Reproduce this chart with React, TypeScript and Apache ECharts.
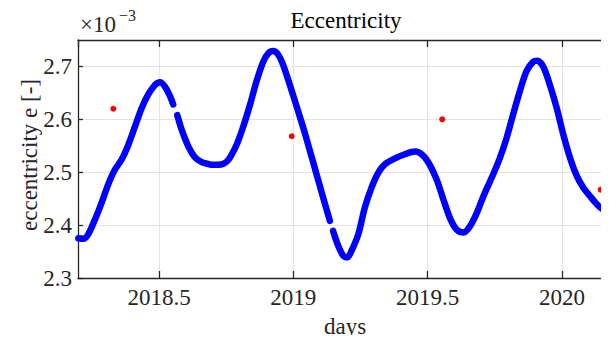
import React, { useEffect, useRef } from "react";
import * as echarts from "echarts";

// Time axis (decimal years) and eccentricity (in units of 1e-3)
const days: (number | null)[] = [
  2018.2, 2018.218, 2018.237, 2018.262, 2018.287, 2018.311, 2018.336, 2018.361,
  2018.386, 2018.411, 2018.436, 2018.46, 2018.485, 2018.504, 2018.522, 2018.541,
  2018.553, null, 2018.568, 2018.584, 2018.609, 2018.634, 2018.659, 2018.68,
  2018.7, 2018.72, 2018.74, 2018.754, 2018.768, 2018.789, 2018.814, 2018.839,
  2018.863, 2018.888, 2018.907,
  2018.925, 2018.944, 2018.962, 2018.987, 2019.012, 2019.037, 2019.062, 2019.087,
  2019.111, 2019.136, null, 2019.148, 2019.167, 2019.186, 2019.201, 2019.217,
  2019.242, 2019.266, 2019.291, 2019.316, 2019.341, 2019.378, 2019.415, 2019.453,
  2019.484, 2019.51, 2019.535, 2019.56, 2019.585, 2019.609, 2019.634, 2019.659,
  2019.684, 2019.7, 2019.719, 2019.744, 2019.769, 2019.794, 2019.818, 2019.843,
  2019.868, 2019.893, 2019.908, 2019.93, 2019.955, 2019.98, 2020.005, 2020.03,
  2020.055, 2020.079, 2020.104, 2020.129, 2020.154, 2020.175,
];
const ecc: (number | null)[] = [
  2.375, 2.374, 2.383, 2.411, 2.443, 2.477, 2.505, 2.524,
  2.552, 2.587, 2.622, 2.647, 2.665, 2.67, 2.662, 2.644,
  2.628, null, 2.608, 2.581, 2.549, 2.528, 2.519, 2.516,
  2.514, 2.514, 2.516, 2.521, 2.531, 2.552, 2.587, 2.628,
  2.672, 2.709, 2.725,
  2.729, 2.722, 2.703, 2.665, 2.625, 2.584, 2.54, 2.495,
  2.452, 2.408, null, 2.389, 2.361, 2.342, 2.339, 2.352,
  2.383, 2.433, 2.471, 2.499, 2.515, 2.526, 2.534, 2.539,
  2.531, 2.512, 2.484, 2.446, 2.411, 2.391, 2.386, 2.399,
  2.424, 2.445, 2.468, 2.496, 2.527, 2.565, 2.609, 2.653,
  2.691, 2.709, 2.711, 2.7, 2.665, 2.622, 2.571, 2.527,
  2.493, 2.471, 2.455, 2.44, 2.43, 2.43,
];

// Reference samples (red markers)
const obsDays = [2018.33, 2018.994, 2019.554, 2020.144];
const obsEcc = [2.62, 2.568, 2.6, 2.467];

const xMin = 2018.1985;
const xMax = 2020.175;
const yMin = 2.3;
const yMax = 2.75;

const FAMILY = "Liberation Serif";
const AXIS_COLOR = "#262626";
const GRID_COLOR = "#e3e3e3";

export default function App() {
  const ref = useRef<HTMLDivElement>(null);

  useEffect(() => {
    if (!ref.current) return;
    const chart = echarts.init(ref.current, undefined, { renderer: "svg" });

    const curve = days.map((d, i) =>
      d === null || ecc[i] === null ? [null, null] : [d, ecc[i]]
    );
    const obs = obsDays.map((d, i) => [d, obsEcc[i]]);

    chart.setOption({
      animation: false,
      backgroundColor: "#ffffff",
      textStyle: { fontFamily: FAMILY },
      grid: { left: 78, right: 0, top: 40, bottom: 65, containLabel: false },
      xAxis: [
        {
          type: "value",
          min: xMin,
          max: xMax,
          splitNumber: 4,
          axisLine: { onZero: false, lineStyle: { color: AXIS_COLOR, width: 1.3 } },
          axisTick: { inside: true, length: 7, lineStyle: { color: AXIS_COLOR, width: 1.3 } },
          axisLabel: {
            color: AXIS_COLOR,
            fontFamily: FAMILY,
            fontSize: 23,
            margin: 8,
            showMinLabel: false,
            showMaxLabel: false,
            formatter: (v: number) => String(Math.round(v * 10) / 10),
          },
          splitLine: { show: true, lineStyle: { color: GRID_COLOR, width: 1 } },
        },
        {
          type: "value",
          position: "top",
          min: xMin,
          max: xMax,
          splitNumber: 4,
          axisLine: { onZero: false, lineStyle: { color: AXIS_COLOR, width: 1.3 } },
          axisTick: { inside: true, length: 7, lineStyle: { color: AXIS_COLOR, width: 1.3 } },
          axisLabel: { show: false },
          splitLine: { show: false },
        },
      ],
      yAxis: {
        type: "value",
        min: yMin,
        max: yMax,
        interval: 0.1,
        axisLine: { show: true, onZero: false, lineStyle: { color: AXIS_COLOR, width: 1.3 } },
        axisTick: { show: true, inside: true, length: 5, lineStyle: { color: AXIS_COLOR, width: 1.3 } },
        axisLabel: {
          color: AXIS_COLOR,
          fontFamily: FAMILY,
          fontSize: 23,
          margin: 6,
          showMaxLabel: false,
          formatter: (v: number) => (Math.round(v * 10) / 10).toFixed(1),
        },
        splitLine: { show: true, lineStyle: { color: GRID_COLOR, width: 1 } },
      },
      graphic: [
        {
          type: "text",
          x: 346,
          y: 20,
          style: {
            text: "Eccentricity",
            fontFamily: FAMILY,
            fontSize: 23,
            fill: "#000000",
            align: "center",
            verticalAlign: "middle",
          },
        },
        {
          type: "text",
          x: 80,
          y: 24,
          style: {
            text: "×10",
            fontFamily: FAMILY,
            fontSize: 23,
            fill: AXIS_COLOR,
            align: "left",
            verticalAlign: "middle",
          },
        },
        {
          type: "text",
          x: 119,
          y: 15,
          style: {
            text: "−3",
            fontFamily: FAMILY,
            fontSize: 16,
            fill: AXIS_COLOR,
            align: "left",
            verticalAlign: "middle",
          },
        },
        {
          type: "text",
          x: 29,
          y: 155,
          rotation: Math.PI / 2,
          style: {
            text: "eccentricity e [-]",
            fontFamily: FAMILY,
            fontSize: 23,
            fill: AXIS_COLOR,
            align: "center",
            verticalAlign: "middle",
          },
        },
        {
          type: "text",
          x: 345,
          y: 326,
          style: {
            text: "days",
            fontFamily: FAMILY,
            fontSize: 23,
            fill: AXIS_COLOR,
            align: "center",
            verticalAlign: "middle",
          },
        },
      ],
      series: [
        {
          type: "line",
          data: curve,
          xAxisIndex: 0,
          showSymbol: false,
          smooth: 0.3,
          connectNulls: false,
          clip: true,
          lineStyle: { color: "#0000ff", width: 6.5, cap: "round", join: "round" },
          z: 2,
        },
        {
          type: "scatter",
          data: obs,
          xAxisIndex: 0,
          symbol: "circle",
          symbolSize: 6,
          itemStyle: { color: "#ff0000", opacity: 1 },
          z: 3,
        },
      ],
    });

    return () => chart.dispose();
  }, []);

  return <div ref={ref} style={{ width: 609, height: 343, margin: -8 }} />;
}
